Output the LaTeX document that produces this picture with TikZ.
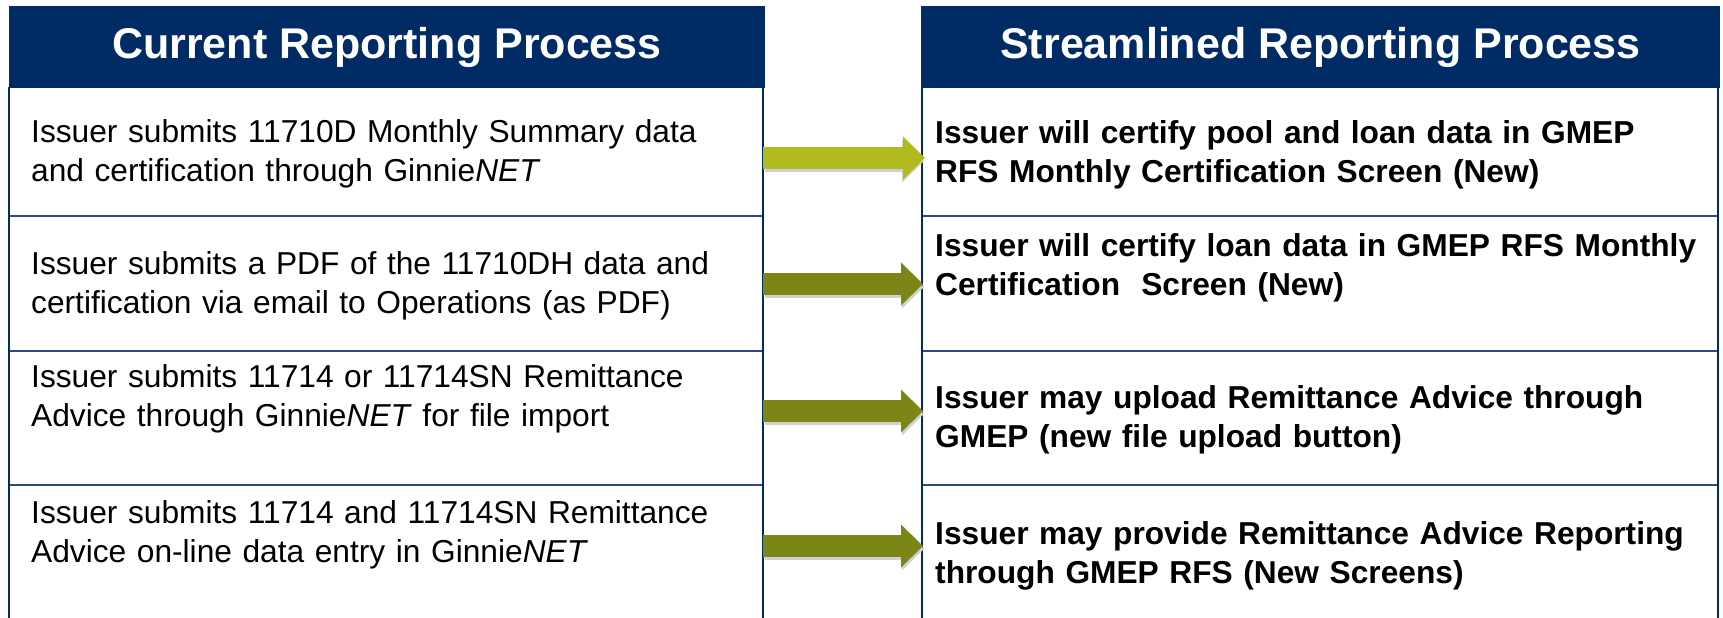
\documentclass[tikz,border=0pt]{standalone}
\usepackage{fontspec}
\setmainfont{Liberation Sans}
\usetikzlibrary{arrows.meta}

\definecolor{gnavy}{RGB}{0,43,100}
\definecolor{gline}{RGB}{45,75,130}
\definecolor{olivelt}{RGB}{178,187,30}
\definecolor{olivedk}{RGB}{124,134,22}

\tikzset{
    hdr/.style={rectangle, fill=gnavy, text=white, inner sep=0pt, minimum height=82pt,
        font=\fontsize{43}{50}\selectfont\bfseries},
    curtxt/.style={anchor=west, align=left, inner ysep=0pt, inner xsep=22pt, text width=710pt,
        font=\fontsize{31.7}{39}\selectfont},
    newtxt/.style={anchor=west, align=left, inner ysep=0pt, inner xsep=13pt, text width=770pt,
        font=\fontsize{31.7}{39}\selectfont\bfseries},
    sideline/.style={draw=gnavy, line width=2.5pt},
    rowline/.style={draw=gline, line width=1.5pt},
    flowarrow/.style={line width=22pt, -{Triangle[length=22pt, width=43pt, line width=0pt]}},
    flowshadow/.style={flowarrow, black!18, transform canvas={xshift=2pt, yshift=-3pt}},
}

\begin{document}
\begin{tikzpicture}[x=1pt, y=-1pt]
    \useasboundingbox (0,0) rectangle (1723,618);
    % Headers
    \node[hdr, minimum width=756pt] (Head-Cur) at (387,47) {Current Reporting Process};
    \node[hdr, minimum width=799pt] (Head-New) at (1320.5,47) {Streamlined Reporting Process};
    % Table lines
    \foreach \xa/\xb in {9/763,922/1718} {
        \foreach \y in {216,351,485} {
            \draw[rowline] (\xa,\y) -- (\xb,\y);
        }
        \draw[sideline] (\xa,87) -- (\xa,620);
        \draw[sideline] (\xb,87) -- (\xb,620);
    }
    % Current process
    \foreach \i/\y/\txt in {1/154/{Issuer submits 11710D Monthly Summary data\\and certification through Ginnie\textit{NET}},
                            2/286/{Issuer submits a PDF of the 11710DH data and\\certification via email to Operations (as PDF)},
                            3/399/{Issuer submits 11714 or 11714SN Remittance\\Advice through Ginnie\textit{NET} for file import},
                            4/535/{Issuer submits 11714 and 11714SN Remittance\\Advice on-line data entry in Ginnie\textit{NET}}} {
        \node[curtxt] (Cur-\i) at (9,\y) {\txt};
    }
    % Streamlined process
    \foreach \i/\y/\txt in {1/155/{Issuer will certify pool and loan data in GMEP\\RFS Monthly Certification Screen (New)},
                            2/268/{Issuer will certify loan data in GMEP RFS Monthly\\Certification~ Screen (New)},
                            3/420/{Issuer may upload Remittance Advice through\\GMEP (new file upload button)},
                            4/556/{Issuer may provide Remittance Advice Reporting\\through GMEP RFS (New Screens)}} {
        \node[newtxt] (New-\i) at (922,\y) {\txt};
    }
    % Arrows
    \foreach \i/\y in {1/158,2/284,3/411,4/546} {
        \coordinate (Lvl-\i) at (0,\y);
        \draw[flowshadow] (Cur-\i.east |- Lvl-\i) -- (New-\i.west |- Lvl-\i);
        \ifnum \i=1
            \draw[flowarrow, olivelt] (Cur-\i.east |- Lvl-\i) -- ([xshift=3pt]New-\i.west |- Lvl-\i);
        \else
            \draw[flowarrow, olivedk] (Cur-\i.east |- Lvl-\i) -- ([xshift=1pt]New-\i.west |- Lvl-\i);
        \fi
    }
\end{tikzpicture}
\end{document}
